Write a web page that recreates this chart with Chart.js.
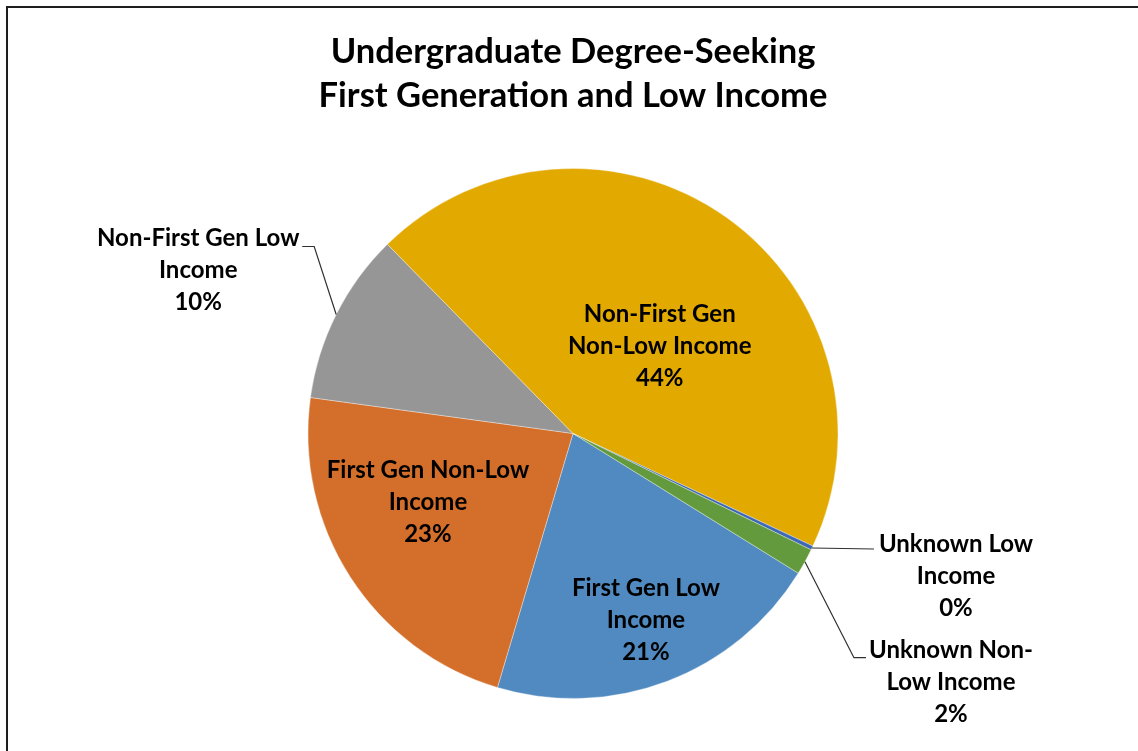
<!DOCTYPE html>
<html>
<head>
<meta charset="utf-8">
<script src="https://cdn.jsdelivr.net/npm/chart.js@4/dist/chart.umd.min.js"></script>
<style>
  html, body { margin: 0; padding: 0; background: #fff; overflow: hidden; }
  #wrap { position: relative; width: 1138px; height: 751px; }
</style>
</head>
<body>
<div id="wrap"><canvas id="pie"></canvas></div>
<script>
// Data (order as in the sheet, drawn clockwise)
const categories = [
    'First Gen Low Income',
    'First Gen Non-Low Income',
    'Non-First Gen Low Income',
    'Non-First Gen Non-Low Income',
    'Unknown Low Income',
    'Unknown Non-Low Income'
];
const labelLines = [
    ['First Gen Low', 'Income'],
    ['First Gen Non-Low', 'Income'],
    ['Non-First Gen Low', 'Income'],
    ['Non-First Gen', 'Non-Low Income'],
    ['Unknown Low', 'Income'],
    ['Unknown Non-', 'Low Income']
];
const shares = [20.8, 22.6, 10.5, 44.4, 0.25, 1.6];
const sliceColors = ['#508AC0', '#D46F2B', '#969696', '#E2A900', '#3E68B4', '#649A3E'];

// label placement: inside = rotate/shrink from slice middle, outside = leader line offsets
const labelPlacement = [
    { inside: true, shift: -0.5, frac: 0.757 },
    { inside: true, shift: 7.6, frac: 0.605 },
    { inside: false, leader: [[-22, -68], [-34, -68]], text: [-138, -44] },
    { inside: true, shift: 9.5, frac: 0.464 },
    { inside: false, leader: [[62, 1]], text: [144, 28] },
    { inside: false, leader: [[49, 96], [61, 96]], text: [146, 121] }
];

const LABEL_FONT = 'bold 24px Lato';
const LINE_GAP = 32;

// frame round the chart area, like the Excel export
const frame = {
    id: 'frame',
    beforeDraw(chart) {
        const ctx = chart.ctx;
        ctx.save();
        ctx.fillStyle = '#fff';
        ctx.fillRect(0, 0, chart.width, chart.height);
        ctx.strokeStyle = '#1e1e1e';
        ctx.lineWidth = 2;
        ctx.beginPath();
        ctx.moveTo(7, chart.height + 5);
        ctx.lineTo(7, 7);
        ctx.lineTo(chart.width + 5, 7);
        ctx.stroke();
        ctx.restore();
    }
};

const sliceLabels = {
    id: 'sliceLabels',
    afterDatasetsDraw(chart) {
        const ctx = chart.ctx;
        const meta = chart.getDatasetMeta(0);
        const total = shares.reduce((a, b) => a + b, 0);
        ctx.save();
        ctx.font = LABEL_FONT;
        ctx.fillStyle = '#000';
        ctx.textAlign = 'center';
        ctx.textBaseline = 'middle';
        meta.data.forEach((arc, i) => {
            const { x, y, startAngle, endAngle, outerRadius } =
                arc.getProps(['x', 'y', 'startAngle', 'endAngle', 'outerRadius'], true);
            const p = labelPlacement[i];
            const lines = labelLines[i].concat([Math.round(shares[i] / total * 100) + '%']);
            const mid = (startAngle + endAngle) / 2;
            let cx, cy;
            if (p.inside) {
                const a = mid + p.shift * Math.PI / 180;
                cx = x + Math.cos(a) * outerRadius * p.frac;
                cy = y + Math.sin(a) * outerRadius * p.frac;
            } else {
                const ax = x + Math.cos(mid) * outerRadius;
                const ay = y + Math.sin(mid) * outerRadius;
                ctx.strokeStyle = '#303030';
                ctx.lineWidth = 1.2;
                ctx.beginPath();
                ctx.moveTo(ax, ay);
                p.leader.forEach(pt => ctx.lineTo(ax + pt[0], ay + pt[1]));
                ctx.stroke();
                cx = ax + p.text[0];
                cy = ay + p.text[1];
            }
            const top = cy - (lines.length - 1) * LINE_GAP / 2;
            lines.forEach((t, k) => ctx.fillText(t, cx, top + k * LINE_GAP));
        });
        ctx.restore();
    }
};

new Chart(document.getElementById('pie'), {
    type: 'pie',
    data: {
        labels: categories,
        datasets: [{
            data: shares,
            backgroundColor: sliceColors,
            borderColor: 'rgba(255,255,255,0.35)',
            borderWidth: 1
        }]
    },
    options: {
        responsive: true,
        maintainAspectRatio: false,
        animation: false,
        rotation: 121.8,
        layout: { padding: { left: 8, right: 0, top: 0, bottom: 52 } },
        plugins: {
            legend: { display: false },
            tooltip: { enabled: false },
            title: {
                display: true,
                text: ['Undergraduate Degree-Seeking', 'First Generation and Low Income'],
                color: '#000',
                font: { family: 'Lato', size: 34.5, weight: 'bold', lineHeight: 1.275 },
                padding: { top: 30, bottom: 50 }
            }
        }
    },
    plugins: [frame, sliceLabels]
});
</script>
</body>
</html>
